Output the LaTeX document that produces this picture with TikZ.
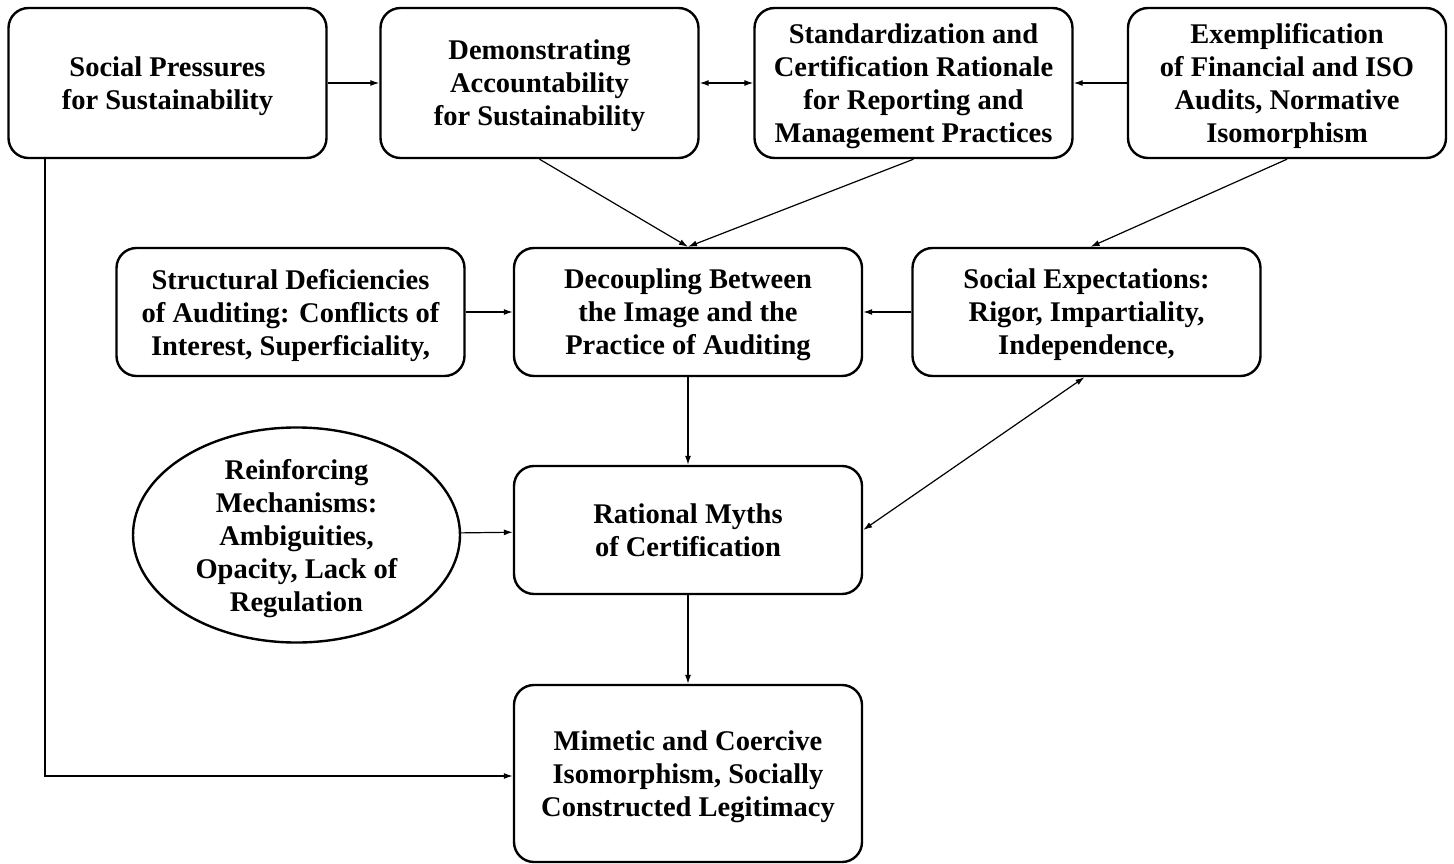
\documentclass[tikz,border=0pt]{standalone}
\usepackage{fontspec}
\setmainfont{Liberation Serif}
\usetikzlibrary{arrows.meta,shapes.geometric}
\begin{document}
\begin{tikzpicture}[x=1pt,y=-1pt,
  box/.style={draw,line width=2.4pt,rounded corners=20pt,align=center,
    font=\fontsize{28.5}{33}\selectfont\bfseries,inner sep=0pt,text depth=0pt},
  topbox/.style={box,minimum width=318pt,minimum height=150pt},
  midbox/.style={box,minimum width=348pt,minimum height=128pt},
  oval/.style={draw,ellipse,line width=2.4pt,align=center,
    font=\fontsize{28.5}{33}\selectfont\bfseries,inner sep=0pt,text depth=0pt,
    minimum width=327pt,minimum height=173pt},
  arr/.style={line width=1.2pt,-{Latex[length=9pt,width=6pt]}},
  darr/.style={line width=1.2pt,{Latex[length=9pt,width=6pt]}-{Latex[length=9pt,width=6pt]}}
]
\useasboundingbox (0,0) rectangle (1454,864);
\node[topbox] (sp) at (167.5,83) {Social Pressures\\for Sustainability};
\node[topbox] (da) at (539.5,83) {Demonstrating\\Accountability\\for Sustainability};
\node[topbox] (sc) at (913.5,83) {Standardization and\\Certification Rationale\\for Reporting and\\Management Practices};
\node[topbox] (ex) at (1287,83) {Exemplification\\of Financial and ISO\\Audits, Normative\\Isomorphism};
\node[midbox] (sd) at (290.5,312) {Structural Deficiencies\\of Auditing: Conflicts of\\Interest, Superficiality,};
\node[midbox] (dc) at (688,312) {Decoupling Between\\the Image and the\\Practice of Auditing};
\node[midbox] (se) at (1086.5,312) {Social Expectations:\\Rigor, Impartiality,\\Independence,};
\node[oval] (rm) at (296.5,535) {Reinforcing\\Mechanisms:\\Ambiguities,\\Opacity, Lack of\\Regulation};
\node[midbox] (my) at (688,530) {Rational Myths\\of Certification};
\node[box,minimum width=348pt,minimum height=177pt] (mi) at (688,773.5) {Mimetic and Coercive\\Isomorphism, Socially\\Constructed Legitimacy};
\coordinate (corner) at (45,776);
\draw[arr] (sp) -- (da);
\draw[darr] (da) -- (sc);
\draw[arr] (ex) -- (sc);
\draw[arr] (da.south) -- (dc.north);
\draw[arr] (sc.south) -- (dc.north);
\draw[arr] (ex.south) -- ([xshift=4pt]se.north);
\draw[arr] (sd) -- (dc);
\draw[arr] (se) -- (dc);
\draw[arr] (dc) -- (my);
\draw[darr] ([xshift=-2pt]se.south) -- (my.east);
\draw[arr] (rm) -- (my);
\draw[arr] (my) -- (mi);
\draw[arr] (sp.south -| corner) -- (corner) -- (mi.west |- corner);
\end{tikzpicture}
\end{document}
